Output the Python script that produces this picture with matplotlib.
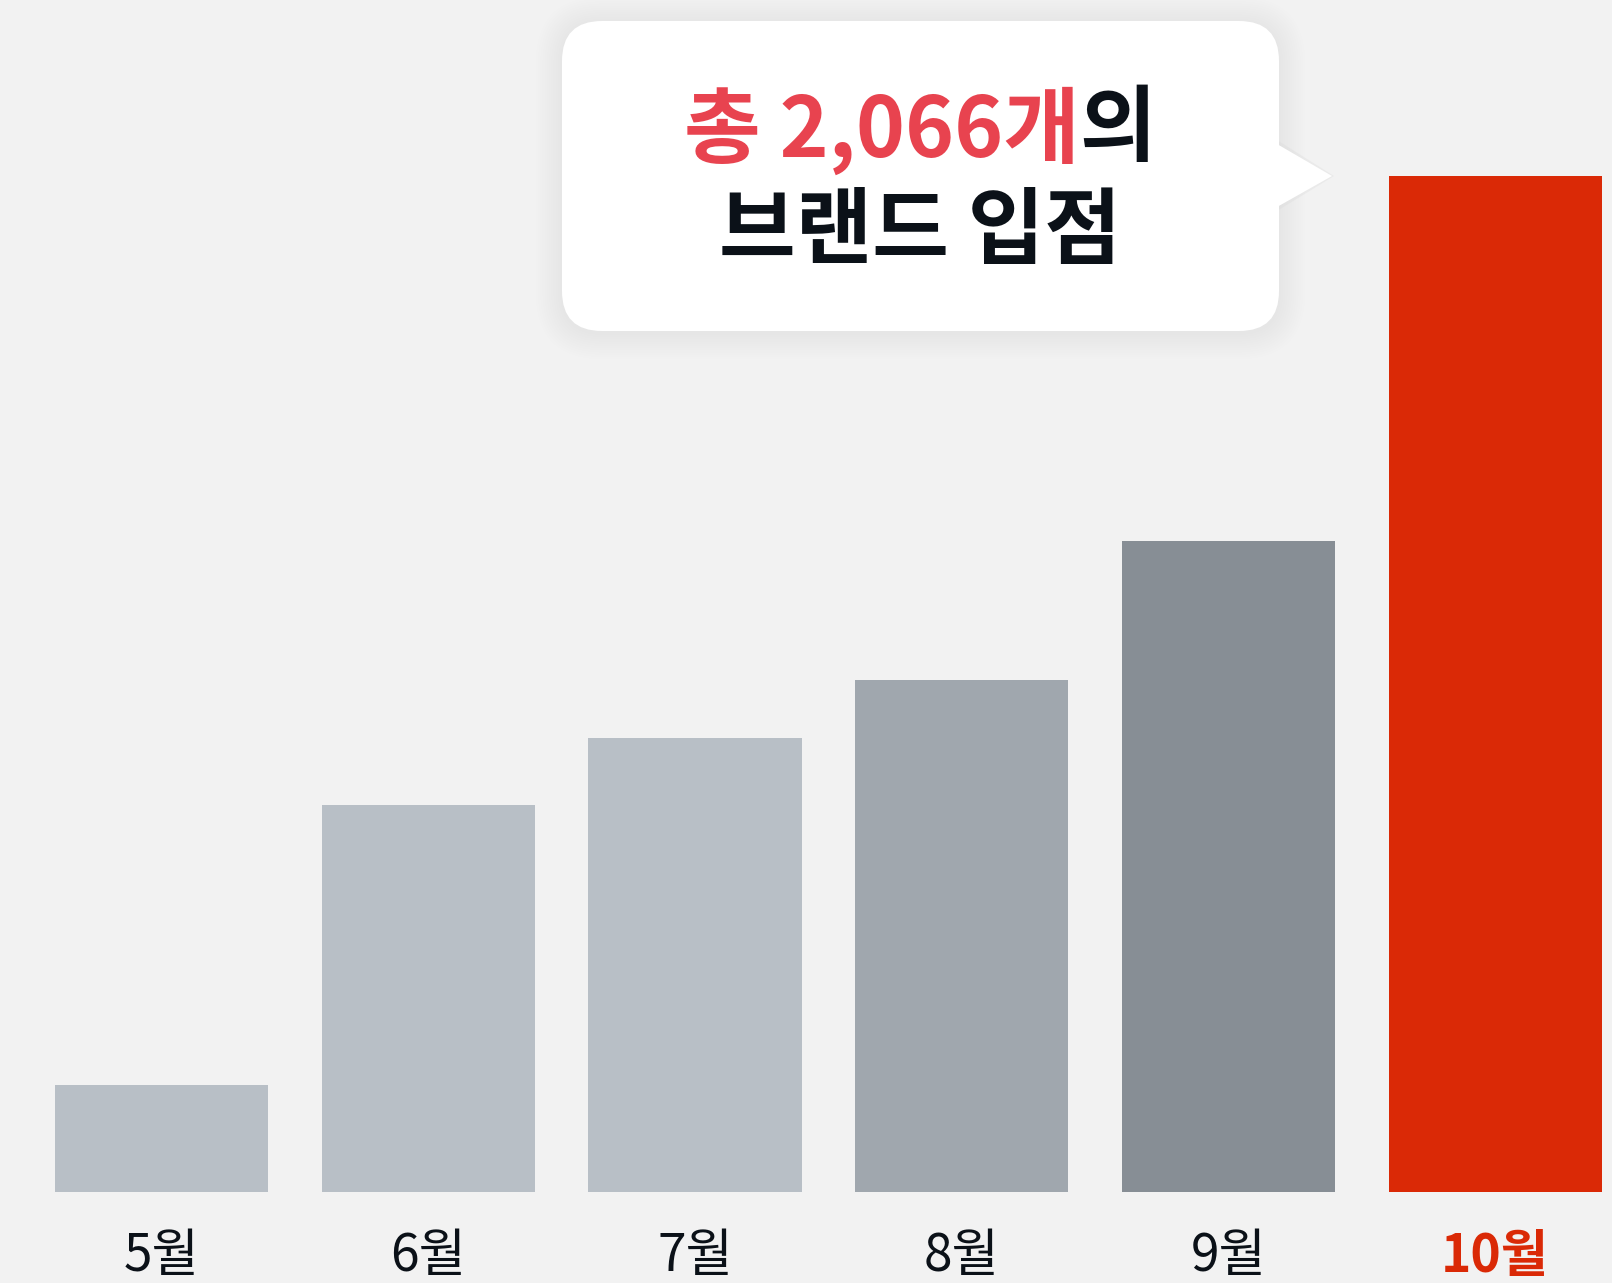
import matplotlib

matplotlib.use("Agg")
import matplotlib.pyplot as plt
from matplotlib.patches import FancyBboxPatch, Polygon

plt.rcParams["font.family"] = ["Noto Sans CJK KR", "DejaVu Sans"]

# monthly brand count (10월 = total 2,066)
months = ["5월", "6월", "7월", "8월", "9월", "10월"]
brands = [217, 787, 923, 1041, 1324, 2066]
bar_colors = ["#b8bfc6", "#b8bfc6", "#b8bfc6", "#a0a7ae", "#878e95", "#da2906"]
label_colors = ["#0b1118"] * 5 + ["#da2906"]

headline_red = "총 2,066개"
headline_dark = "의"
headline_line2 = "브랜드 입점"

BG = "#f2f2f2"
W, H = 1612, 1283

fig = plt.figure(figsize=(W / 100, H / 100), dpi=100, facecolor=BG)

# bar axes: bottom edge sits on the bar baseline
base_px = 1192
ax = fig.add_axes([0, (H - base_px) / H, 1, base_px / H])
ax.set_facecolor(BG)
x = range(len(months))
ax.bar(x, brands, width=0.8, color=bar_colors, linewidth=0)
ax.set_xlim(-0.6065, 5.438)
ax.set_ylim(0, 2423)
ax.set_xticks(list(x), months)
ax.tick_params(axis="x", length=0, pad=27, labelsize=37)
ax.set_yticks([])
for lbl, c in zip(ax.get_xticklabels(), label_colors):
    lbl.set_color(c)
ax.get_xticklabels()[-1].set_fontweight("bold")
for s in ax.spines.values():
    s.set_visible(False)

# overlay in pixel units for the speech bubble
ov = fig.add_axes([0, 0, 1, 1])
ov.set_xlim(0, W)
ov.set_ylim(H, 0)
ov.axis("off")
ov.patch.set_alpha(0)

bx0, by0, bx1, by1 = 562, 21, 1279, 331
rad = 40

# soft shadow
for i in range(12):
    p = 2 + i * 2.2
    ov.add_patch(FancyBboxPatch(
        (bx0 - p, by0 - p + 2), (bx1 - bx0) + 2 * p, (by1 - by0) + 2 * p,
        boxstyle=f"round,pad=0,rounding_size={rad + p}",
        facecolor="black", edgecolor="none", alpha=0.005,
    ))
ov.add_patch(Polygon([(bx1 - 2, 140), (1334, 176), (bx1 - 2, 211)],
                     closed=True, facecolor="#d8d8d8", edgecolor="none", alpha=0.3))
ov.add_patch(FancyBboxPatch(
    (bx0, by0), bx1 - bx0, by1 - by0,
    boxstyle=f"round,pad=0,rounding_size={rad}",
    facecolor="white", edgecolor="none",
))
ov.add_patch(Polygon([(bx1 - 2, 144), (1332, 176), (bx1 - 2, 207)],
                     closed=True, facecolor="white", edgecolor="none"))

# headline text: two colours on the first line, centred together
cx = 920
fs = 60
t1 = ov.text(0, 131, headline_red, color="#e8434f", fontsize=fs,
             fontweight="bold", ha="left", va="center")
t2 = ov.text(0, 131, headline_dark, color="#0b1118", fontsize=fs,
             fontweight="bold", ha="left", va="center")
fig.canvas.draw()
r = fig.canvas.get_renderer()
w1 = t1.get_window_extent(r).width
w2 = t2.get_window_extent(r).width
start = cx - (w1 + w2) / 2
t1.set_x(start)
t2.set_x(start + w1)
ov.text(cx, 232, headline_line2, color="#0b1118", fontsize=fs,
        fontweight="bold", ha="center", va="center")

fig.savefig("out.png", dpi=100, facecolor=BG)
